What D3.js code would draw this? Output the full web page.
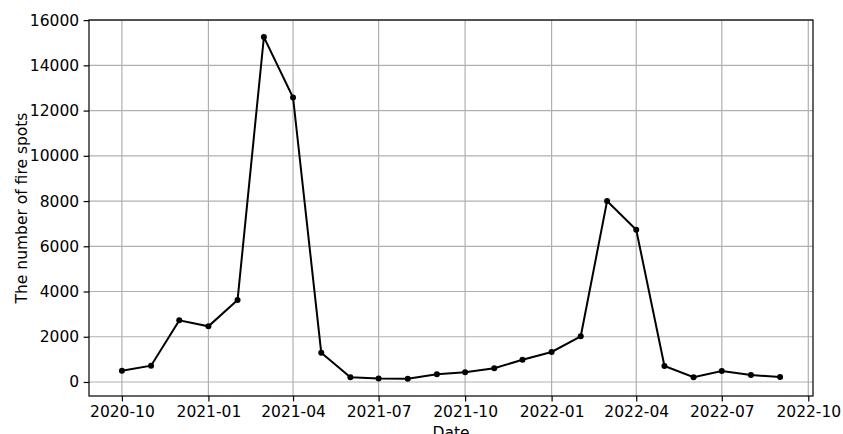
<!DOCTYPE html>
<html>
<head>
<meta charset="utf-8">
<script src="https://cdn.jsdelivr.net/npm/d3@7"></script>
<style>
  body { margin: 0; background: #fff; }
  svg { display: block; }
</style>
</head>
<body>
<div id="chart"></div>
<script>
// monthly fire spot counts
const months = ["2020-10", "2020-11", "2020-12", "2021-01", "2021-02", "2021-03",
                "2021-04", "2021-05", "2021-06", "2021-07", "2021-08", "2021-09",
                "2021-10", "2021-11", "2021-12", "2022-01", "2022-02", "2022-03",
                "2022-04", "2022-05", "2022-06", "2022-07", "2022-08", "2022-09"];
const fireSpots = [500, 720, 2725, 2460, 3625, 15250,
                   12580, 1295, 207, 155, 147, 340,
                   428, 605, 986, 1326, 2019, 8000,
                   6732, 707, 207, 486, 309, 221];
const yTicks = [0, 2000, 4000, 6000, 8000, 10000, 12000, 14000, 16000];
const xTickLabels = ["2020-10", "2021-01", "2021-04", "2021-07", "2021-10",
                     "2022-01", "2022-04", "2022-07", "2022-10"];

const W = 843, H = 434;
const margin = {top: 20, right: 30, bottom: 38, left: 89};
const width = 813 - margin.left;
const height = 396 - margin.top;
const font = "DejaVu Sans, sans-serif";

const parse = d3.timeParse("%Y-%m");
const data = months.map((m, i) => ({date: parse(m), value: fireSpots[i]}));

const svg = d3.select("#chart").append("svg")
    .attr("width", W)
    .attr("height", H);
const g = svg.append("g")
    .attr("transform", "translate(" + margin.left + "," + margin.top + ")");

// x scale with 5% padding like matplotlib
const ext = d3.extent(data, d => d.date);
const span = ext[1] - ext[0];
const x = d3.scaleTime()
    .domain([new Date(+ext[0] - span * 0.05), new Date(+ext[1] + span * 0.05)])
    .range([0, width]);

const y = d3.scaleLinear()
    .domain([-620, 16005])
    .range([height, 0]);

const xTicks = xTickLabels.map(parse);

// grid
g.append("g")
  .selectAll("line.vg")
  .data(xTicks)
  .join("line")
    .attr("x1", d => x(d)).attr("x2", d => x(d))
    .attr("y1", 0).attr("y2", height)
    .attr("stroke", "#b0b0b0").attr("stroke-width", 1.2);
g.append("g")
  .selectAll("line.hg")
  .data(yTicks)
  .join("line")
    .attr("x1", 0).attr("x2", width)
    .attr("y1", d => y(d)).attr("y2", d => y(d))
    .attr("stroke", "#b0b0b0").attr("stroke-width", 1.2);

// axes
const xAxis = g.append("g")
    .attr("transform", "translate(0," + height + ")")
    .call(d3.axisBottom(x).tickValues(xTicks).tickFormat(d3.timeFormat("%Y-%m"))
        .tickSize(5.4).tickPadding(4.5));
const yAxis = g.append("g")
    .call(d3.axisLeft(y).tickValues(yTicks).tickFormat(d3.format("d"))
        .tickSize(5.4).tickPadding(4.5));
[xAxis, yAxis].forEach(a => {
  a.select(".domain").remove();
  a.selectAll(".tick line").attr("stroke", "#000").attr("stroke-width", 1.2);
  a.selectAll("text").attr("font-family", font).attr("font-size", 15.5).attr("fill", "#000");
});

// line + markers
g.append("path")
    .datum(data)
    .attr("fill", "none")
    .attr("stroke", "#000")
    .attr("stroke-width", 2)
    .attr("d", d3.line().x(d => x(d.date)).y(d => y(d.value)));
g.selectAll("circle")
  .data(data)
  .join("circle")
    .attr("cx", d => x(d.date))
    .attr("cy", d => y(d.value))
    .attr("r", 3)
    .attr("fill", "#000");

// spines
g.append("rect")
    .attr("width", width).attr("height", height)
    .attr("fill", "none")
    .attr("stroke", "#000").attr("stroke-width", 1.2);

// labels
svg.append("text")
    .attr("x", margin.left + width / 2)
    .attr("y", 438)
    .attr("text-anchor", "middle")
    .attr("font-family", font)
    .attr("font-size", 15.5)
    .text("Date");

svg.append("text")
    .attr("transform", "rotate(-90)")
    .attr("x", -(margin.top + height / 2))
    .attr("y", 27)
    .attr("text-anchor", "middle")
    .attr("font-family", font)
    .attr("font-size", 15.5)
    .text("The number of fire spots");
</script>
</body>
</html>
